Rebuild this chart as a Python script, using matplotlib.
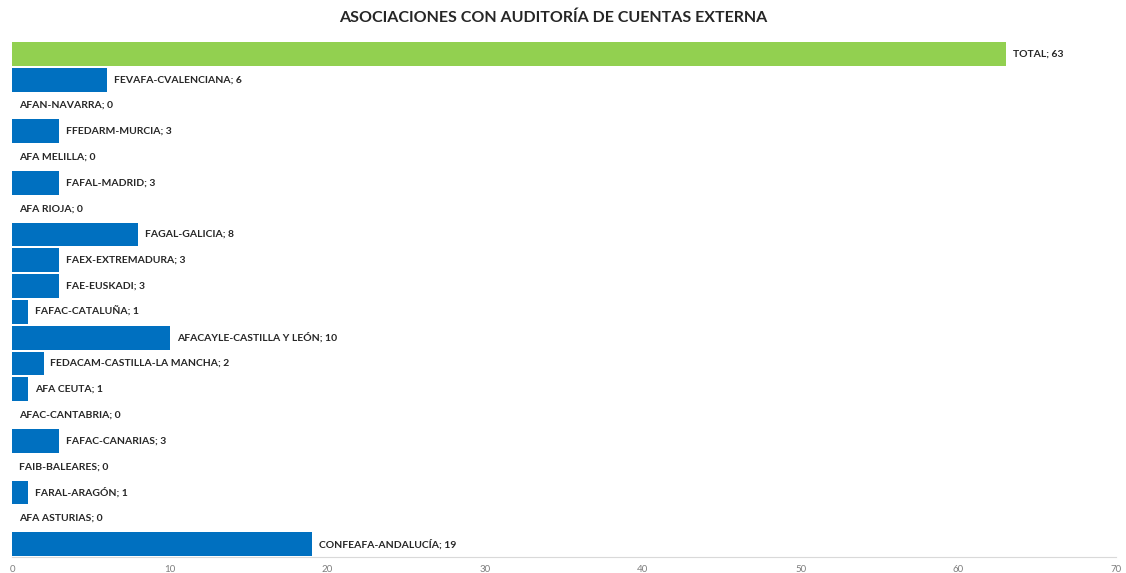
import matplotlib
matplotlib.use("Agg")
import matplotlib.pyplot as plt

# datos (de abajo hacia arriba)
names = ["CONFEAFA-ANDALUCÍA", "AFA ASTURIAS", "FARAL-ARAGÓN", "FAIB-BALEARES",
         "FAFAC-CANARIAS", "AFAC-CANTABRIA", "AFA CEUTA", "FEDACAM-CASTILLA-LA MANCHA",
         "AFACAYLE-CASTILLA Y LEÓN", "FAFAC-CATALUÑA", "FAE-EUSKADI", "FAEX-EXTREMADURA",
         "FAGAL-GALICIA", "AFA RIOJA", "FAFAL-MADRID", "AFA MELILLA", "FFEDARM-MURCIA",
         "AFAN-NAVARRA", "FEVAFA-CVALENCIANA", "TOTAL"]
values = [19, 0, 1, 0, 3, 0, 1, 2, 10, 1, 3, 3, 8, 0, 3, 0, 3, 0, 6, 63]
xticks = [0, 10, 20, 30, 40, 50, 60, 70]

plt.rcParams['font.family'] = ['Lato', 'DejaVu Sans']

fig = plt.figure(figsize=(11.26, 5.73), dpi=100)
ax = fig.add_axes([12/1126, 1-557/573, 1104/1126, 516/573])

colors = ['#92D050' if n == 'TOTAL' else '#0070C0' for n in names]
ypos = list(range(len(names)))
ax.barh(ypos, values, height=0.92, color=colors)

for y, n, v in zip(ypos, names, values):
    ax.annotate(f"{n}; {v}", xy=(v, y), xytext=(5, 0), textcoords='offset points',
                ha='left', va='center', fontsize=7.5, fontweight='bold', color='#262626')

ax.set_xlim(0, 70)
ax.set_ylim(-0.5, len(names) - 0.5)
ax.set_xticks(xticks)
ax.set_xticklabels([str(t) for t in xticks], fontsize=7, color='#7f7f7f')
ax.set_yticks([])
ax.tick_params(axis='x', length=0, pad=6)
for s in ['top', 'right', 'left']:
    ax.spines[s].set_visible(False)
ax.spines['bottom'].set_color('#d9d9d9')

fig.text(553/1126, 1-18/573, "ASOCIACIONES CON AUDITORÍA DE CUENTAS EXTERNA",
         ha='center', va='center', fontsize=11.5, fontweight='bold', color='#262626')

fig.savefig("out.png", dpi=100)
